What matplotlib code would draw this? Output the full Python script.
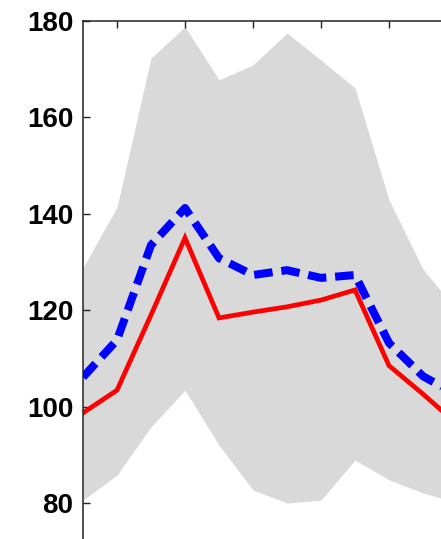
import numpy as np
import matplotlib.pyplot as plt

# valores
x = np.arange(1, 13)
media = [98.7, 103.4, 119.0, 135.0, 118.4, 119.6, 120.7, 122.1, 124.2, 108.5, 102.6, 96.4]
modelo = [106.1, 113.8, 133.5, 141.2, 130.8, 127.3, 128.3, 126.7, 127.3, 113.2, 106.3, 102.4]
banda_sup = [128.8, 141.4, 172.3, 178.8, 167.8, 170.9, 177.5, 171.9, 166.1, 142.9, 128.5, 120.0]
banda_inf = [80.6, 85.8, 95.8, 103.4, 92.0, 82.7, 80.0, 80.6, 88.9, 84.8, 82.1, 80.0]
yticks = [80, 100, 120, 140, 160, 180]
xticks = [2, 4, 6, 8, 10, 12]

W, H = 441, 539
fig = plt.figure(figsize=(W/100, H/100), dpi=100)
# ejes mas grandes que la figura (recortados a la derecha y abajo)
px_x = 34.0
px_y = 4.82
x0, x1 = 1, 12.5
y0, y1 = 60, 180
ancho = (x1 - x0)*px_x
alto = (y1 - y0)*px_y
izq = 83
arriba = 21
ax = fig.add_axes([izq/W, (H - arriba - alto)/H, ancho/W, alto/H])

ax.fill_between(x, banda_inf, banda_sup, color='#d9d9d9', linewidth=0)
ax.plot(x, media, color='red', linewidth=3.4, solid_joinstyle='miter')
ax.plot(x, modelo, color='blue', linewidth=5.8, linestyle=(0, (2.3, 1.1)),
        solid_joinstyle='round')

ax.set_xlim(x0, x1)
ax.set_ylim(y0, y1)
ax.set_yticks(yticks)
ax.set_xticks(xticks)
ax.tick_params(axis='both', direction='in', length=5, width=1, color='#222222')
ax.tick_params(axis='x', top=True, bottom=True, labelbottom=False, labeltop=False)
ax.tick_params(axis='y', left=True, right=True, pad=7)
for s in ax.spines.values():
    s.set_linewidth(1.1)
    s.set_color('#222222')
for lab in ax.get_yticklabels():
    lab.set_fontfamily('Liberation Sans')
    lab.set_fontweight('bold')
    lab.set_fontsize(20)

fig.savefig('out.png', dpi=100)
